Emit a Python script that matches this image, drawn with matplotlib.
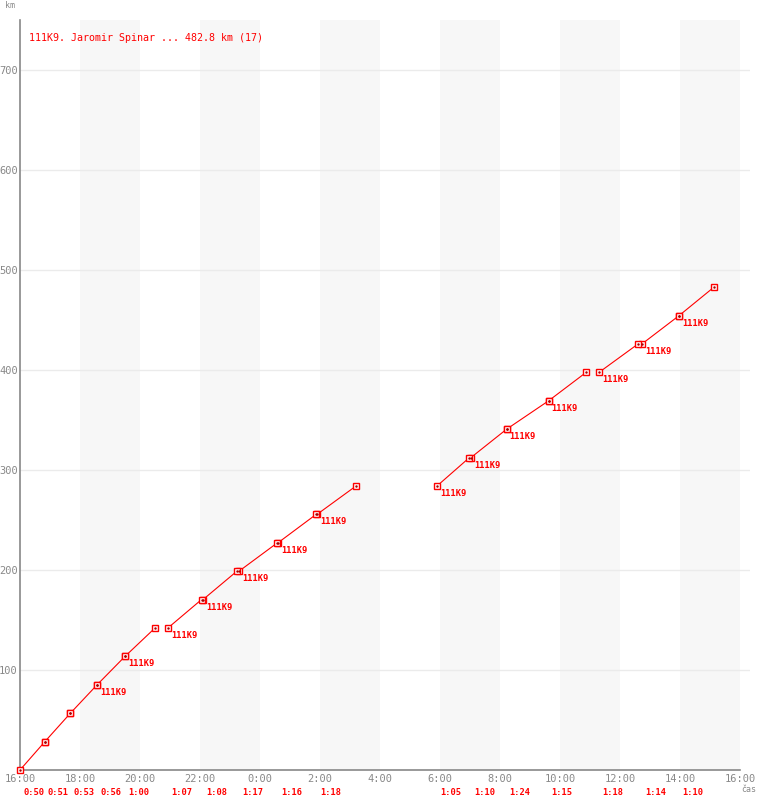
import matplotlib
matplotlib.use('Agg')
import matplotlib.pyplot as plt

# hours after 16:00 (start of race)
lap_start = [0.00, 0.83, 1.68, 2.57, 3.50, 4.93, 6.10, 7.30, 8.60, 9.90,
             13.90, 15.03, 16.22, 17.62, 19.30, 20.73, 21.97]
lap_end = [0.83, 1.68, 2.57, 3.50, 4.50, 6.05, 7.23, 8.58, 9.87, 11.20,
           14.98, 16.22, 17.62, 18.87, 20.60, 21.97, 23.13]
km_start = [0, 28.4, 56.8, 85.2, 113.6, 142.0, 170.4, 198.8, 227.2, 255.6,
            284.0, 312.4, 340.8, 369.2, 397.6, 426.0, 454.4]
km_end = [28.4, 56.8, 85.2, 113.6, 142.0, 170.4, 198.8, 227.2, 255.6, 284.0,
          312.4, 340.8, 369.2, 397.6, 426.0, 454.4, 482.8]
lap_times = ['0:50', '0:51', '0:53', '0:56', '1:00', '1:07', '1:08', '1:17', '1:16', '1:18',
             '1:05', '1:10', '1:24', '1:15', '1:18', '1:14', '1:10']
runner = ['', '', '', '111K9', '111K9', '111K9', '111K9', '111K9', '111K9', '111K9',
          '111K9', '111K9', '111K9', '111K9', '111K9', '111K9', '111K9']
# laps where the line starts again after a pause
new_segment = [True, False, False, False, False, True, False, False, False, False,
               True, False, False, False, True, False, False]

title = '111K9. Jaromir Spinar ... 482.8 km (17)'
hour_ticks = [0, 2, 4, 6, 8, 10, 12, 14, 16, 18, 20, 22, 24]
hour_labels = ['16:00', '18:00', '20:00', '22:00', '0:00', '2:00', '4:00', '6:00',
               '8:00', '10:00', '12:00', '14:00', '16:00']
km_ticks = [100, 200, 300, 400, 500, 600, 700]

RED = '#ff0000'
GRAY = '#888888'
plt.rcParams['font.family'] = ['DejaVu Sans Mono', 'DejaVu Sans']

fig = plt.figure(figsize=(7.6, 8.0), dpi=100)
ax = fig.add_axes([20 / 760, 30 / 800, 730 / 760, 750 / 800])
ax.set_xlim(0, 730 / 30)
ax.set_ylim(0, 750)

for h in [2, 6, 10, 14, 18, 22]:
    ax.axvspan(h, h + 2, color='#f7f7f7', zorder=0, lw=0)

ax.set_yticks(km_ticks)
ax.set_yticklabels([str(k) for k in km_ticks])
ax.yaxis.grid(True, color='#ebebeb', lw=1)
ax.set_axisbelow(True)
ax.set_xticks(hour_ticks)
ax.set_xticklabels(hour_labels)
ax.tick_params(length=0, colors=GRAY, labelsize=7.5)
ax.tick_params(axis='y', pad=1.5)
ax.tick_params(axis='x', pad=3)

for s in ['top', 'right']:
    ax.spines[s].set_visible(False)
for s in ['left', 'bottom']:
    ax.spines[s].set_color(GRAY)
    ax.spines[s].set_linewidth(1.2)
ax.spines['bottom'].set_bounds(0, 24)

# build line segments
segs = []
for i in range(len(lap_start)):
    if new_segment[i]:
        segs.append(([], []))
    segs[-1][0].extend([lap_start[i], lap_end[i]])
    segs[-1][1].extend([km_start[i], km_end[i]])
for xs, ys in segs:
    ax.plot(xs, ys, color=RED, lw=0.8, zorder=3)

pts_x = lap_start + lap_end
pts_y = km_start + km_end
ax.plot(pts_x, pts_y, 's', ms=4.5, mfc='white', mec=RED, mew=1, zorder=4, clip_on=False)
ax.plot(pts_x, pts_y, '.', ms=1.5, color='#aa0000', zorder=5, clip_on=False)

for i in range(len(lap_start)):
    if runner[i]:
        ax.annotate(runner[i], (lap_start[i], km_start[i]), xytext=(3, -3),
                    textcoords='offset pixels', ha='left', va='top',
                    color=RED, fontsize=6.3, fontweight='bold', zorder=6)
    ax.annotate(lap_times[i], (lap_start[i], 0), xycoords=('data', 'axes fraction'),
                xytext=(3, -18), textcoords='offset pixels', ha='left', va='top',
                color=RED, fontsize=6.3, fontweight='bold', annotation_clip=False)

fig.text(29 / 760, 1 - 38 / 800, title, color=RED, fontsize=7.2, ha='left', va='center')
fig.text(5 / 760, 1 - 6 / 800, 'km', color=GRAY, fontsize=6, ha='left', va='center')
fig.text(749 / 760, 1 - 790 / 800, 'čas', color=GRAY, fontsize=6, ha='center', va='center')

fig.savefig('out.png', dpi=100)
